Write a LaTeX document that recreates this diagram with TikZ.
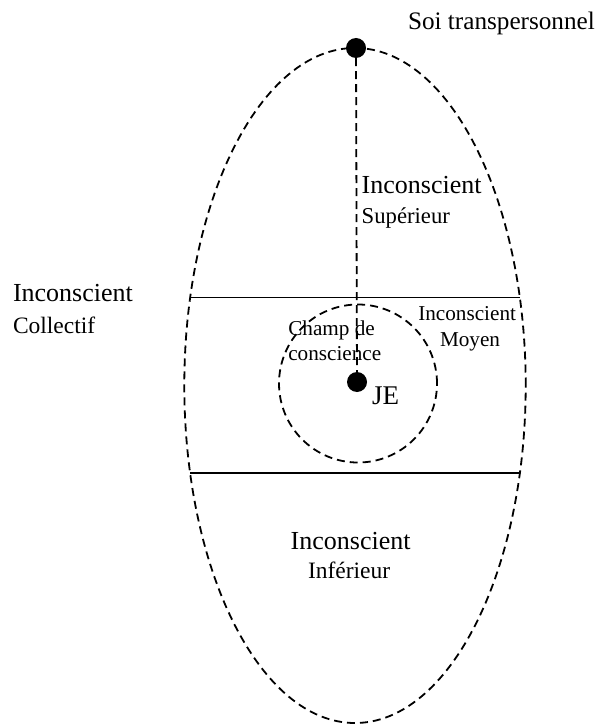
\documentclass[tikz,border=0pt]{standalone}
\usepackage{fontspec}
\setmainfont{Liberation Serif}
\begin{document}
\begin{tikzpicture}[x=1pt,y=-1pt,
  dsh/.style={line width=1.8pt,dash pattern=on 8pt off 5pt},
  sld/.style={line width=1.8pt},
  dot/.style={circle,fill=black,inner sep=0pt,minimum size=20pt},
  lbl/.style={anchor=base west,inner sep=0pt,outer sep=0pt},
  big/.style={lbl,font=\fontsize{26}{30}\selectfont},
  sm/.style={lbl,font=\fontsize{23.5}{28}\selectfont},
  mid/.style={lbl,font=\fontsize{21.2}{25}\selectfont}]
\useasboundingbox (0,0) rectangle (606,727);
% outer ellipse
\coordinate (ec) at (355,385.5);
\draw[dsh] (ec) ellipse [x radius=170.7pt, y radius=337.5pt];
% horizontal boundaries
\coordinate (l1) at (190,297.5);
\coordinate (r1) at (520,297.5);
\coordinate (l2) at (190,472.7);
\coordinate (r2) at (520,472.7);
\draw[sld] (l1) -- (r1);
\draw[sld] (l2) -- (r2);
% field of consciousness
\coordinate (cc) at (358,383.5);
\draw[dsh] (cc) circle [radius=79pt];
% points
\node[dot] (top) at (356,48) {};
\node[dot] (je) at (357,382) {};
\draw[dsh] (top) -- (je);
% labels
\node[lbl,font=\fontsize{25.2}{30}\selectfont] (soi) at (408,30) {Soi transpersonnel};
\node[big] (sup1) at (361.7,193.3) {Inconscient};
\node[lbl,font=\fontsize{22.7}{27}\selectfont] (sup2) at (361.7,223.3) {Supérieur};
\node[big] (col1) at (13,301.7) {Inconscient};
\node[sm] (col2) at (13,333) {Collectif};
\node[mid] (moy1) at (418.3,320.7) {Inconscient};
\node[mid] (moy2) at (440,346.7) {Moyen};
\node[mid] (ch1) at (288.3,335) {Champ de};
\node[mid] (ch2) at (288.3,360) {conscience};
\node[lbl,font=\fontsize{27}{32}\selectfont] (jet) at (372,404) {JE};
\node[big] (inf1) at (290.7,549) {Inconscient};
\node[sm] (inf2) at (308,578) {Inférieur};
\end{tikzpicture}
\end{document}
